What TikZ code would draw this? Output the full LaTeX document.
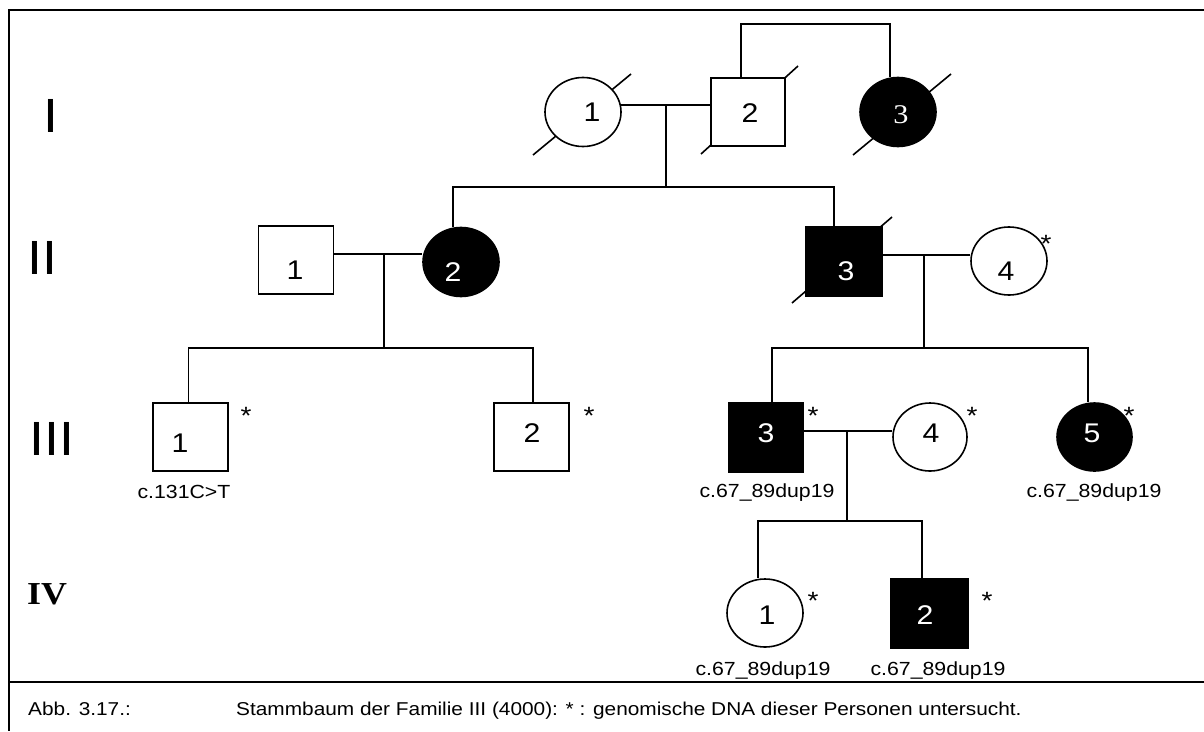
\documentclass[tikz,border=0pt]{standalone}
\usepackage{fontspec}
\setmainfont{Liberation Sans}[FakeStretch=1.12]
\newfontfamily\tnr{Liberation Serif}[FakeStretch=1.12]
\usetikzlibrary{shapes.geometric,calc}
\pgfdeclarelayer{paper}
\pgfdeclarelayer{bg}
\pgfsetlayers{paper,bg,main}
\begin{document}
\begin{tikzpicture}[x=1pt,y=-1pt,
  conn/.style={line width=1.6pt},
  framestyle/.style={line width=2.2pt},
  male/.style={draw, rectangle, line width=1.6pt, fill=white, inner sep=0, minimum width=75pt, minimum height=68pt},
  female/.style={draw, ellipse, line width=1.6pt, fill=white, inner sep=0, minimum width=76pt, minimum height=69pt},
  aff/.style={fill=black},
  num/.style={inner sep=0, font=\fontsize{27}{27}\selectfont},
  wnum/.style={num, text=white},
  astk/.style={inner sep=0, anchor=north, font=\fontsize{25}{25}\selectfont},
  mut/.style={inner sep=0, anchor=base, font=\fontsize{19}{19}\selectfont},
  gen/.style={inner sep=0, anchor=west, font=\fontsize{48}{48}\selectfont},
  captext/.style={inner sep=0, anchor=base west, font=\fontsize{18.6}{18.6}\selectfont},
]
\useasboundingbox (0,0) rectangle (1204,731);
\begin{pgfonlayer}{paper}
\fill[white] (0,0) rectangle (1204,731);
\end{pgfonlayer}

% frame
\draw[framestyle] (1204,10) -- (9,10) -- (9,731);
\draw[framestyle] (9,682) -- (1204,682);

% generation labels
\node[gen] (gI) at (43,115.5) {I};
\node[gen] (gII) at (27,258) {II};
\node[gen] (gIII) at (29,439) {III};
\node[inner sep=0, anchor=west, font=\tnr\bfseries\fontsize{32}{32}\selectfont] (gIV) at (27,594) {IV};

% generation I
\node[female] (I1) at (583,112) {};
\node[male, minimum width=74pt] (I2) at (748,112) {};
\node[female, aff] (I3) at (898,112) {};
\begin{pgfonlayer}{bg}
\draw[conn] ($(I1)+(-50,43)$) -- ($(I1)+(48,-38)$);
\draw[conn] ($(I2)+(-47,42)$) -- ($(I2)+(50,-46)$);
\draw[conn] ($(I3)+(-45,43)$) -- ($(I3)+(53,-38)$);
\end{pgfonlayer}
\node[num] (nI1) at (592,112) {1};
\node[num] (nI2) at (750,113) {2};
\node[inner sep=0, text=white, font=\tnr\fontsize{27}{27}\selectfont] (nI3) at (901,115) {3};

\coordinate (mI) at (666,105);
\coordinate (sI) at (666,187);
\coordinate (tI) at (815,24);
\draw[conn] (I1.10) -- (I1.10 -| I2.west);
\draw[conn] ([xshift=-7pt]I2.north) |- (tI) -| ([xshift=-8pt]I3.north);
\draw[conn] (mI) -- (sI);

% generation II
\node[male] (II1) at (296,260) {};
\node[female, aff] (II2) at (461,262) {};
\node[male, aff, minimum width=76pt, minimum height=69pt] (II3) at (844,261.5) {};
\node[female, minimum height=68pt] (II4) at (1009,261) {};
\begin{pgfonlayer}{bg}
\draw[conn] ($(II3)+(-52,41.5)$) -- ($(II3)+(48,-44.5)$);
\end{pgfonlayer}
\node[num] (nII1) at (295,270) {1};
\node[wnum] (nII2) at (453,272) {2};
\node[wnum] (nII3) at (846,271) {3};
\node[num] (nII4) at (1006,271) {4};
\node[astk] (sII4) at (1046,235) {*};

\draw[conn] ([xshift=-8pt]II2.north) |- (sI) -| ([xshift=-10pt]II3.north);

\coordinate (mII) at (384,254);
\coordinate (sII) at (384,348);
\draw[conn] (mII -| II1.east) -- (mII -| II2.west);
\draw[conn] (mII) -- (sII);

\coordinate (mIIr) at (924,255);
\coordinate (sIIr) at (924,348);
\draw[conn] (mIIr -| II3.east) -- (mIIr -| II4.west);
\draw[conn] (mIIr) -- (sIIr);

% generation III
\node[male] (III1) at (190.5,437) {};
\node[male] (III2) at (531.5,437) {};
\node[male, aff, minimum width=74pt, minimum height=69pt] (III3) at (766,437.5) {};
\node[female, minimum width=74pt, minimum height=68pt] (III4) at (930,437) {};
\node[female, aff, minimum width=75pt, minimum height=68pt] (III5) at (1094.5,437) {};
\node[num] (nIII1) at (180,443) {1};
\node[num] (nIII2) at (532,433) {2};
\node[wnum] (nIII3) at (766,433) {3};
\node[num] (nIII4) at (931,433) {4};
\node[wnum] (nIII5) at (1092,433) {5};
\node[astk] (sIII1) at (246,407) {*};
\node[astk] (sIII2) at (589,407) {*};
\node[astk] (sIII3) at (813,407) {*};
\node[astk] (sIII4) at (972,407) {*};
\node[astk] (sIII5) at (1129,407) {*};
\node[mut] (mutIII1) at (184,498) {c.131C>T};
\node[mut] (mutIII3) at (767,497) {c.67\_89dup19};
\node[mut] (mutIII5) at (1094,497) {c.67\_89dup19};

\draw[conn] ([xshift=-2pt]III1.north) |- (sII) -| ([xshift=1.5pt]III2.north);
\draw[conn] ([xshift=6pt]III3.north) |- (sIIr) -| ([xshift=-6.5pt]III5.north);

\coordinate (mIII) at (847,431);
\coordinate (sIII) at (847,521);
\draw[conn] (mIII -| III3.east) -- (mIII -| III4.west);
\draw[conn] (mIII) -- (sIII);

% generation IV
\node[female, minimum height=68pt] (IV1) at (765,613) {};
\node[male, aff, minimum width=77pt, minimum height=69pt] (IV2) at (929.5,613.5) {};
\node[num] (nIV1) at (767,615) {1};
\node[wnum] (nIV2) at (925,615) {2};
\node[astk] (sIV1) at (813,592) {*};
\node[astk] (sIV2) at (987,592) {*};
\node[mut] (mutIV1) at (763,675) {c.67\_89dup19};
\node[mut] (mutIV2) at (938,675) {c.67\_89dup19};

\draw[conn] ([xshift=-7pt]IV1.north) |- (sIII) -| ([xshift=-7.5pt]IV2.north);

% caption
\node[captext] (abb) at (28,715) {Abb. 3.17.:};
\node[captext] (captxt) at (236,715) {Stammbaum der Familie III (4000): * : genomische DNA dieser Personen untersucht.};
\end{tikzpicture}
\end{document}
